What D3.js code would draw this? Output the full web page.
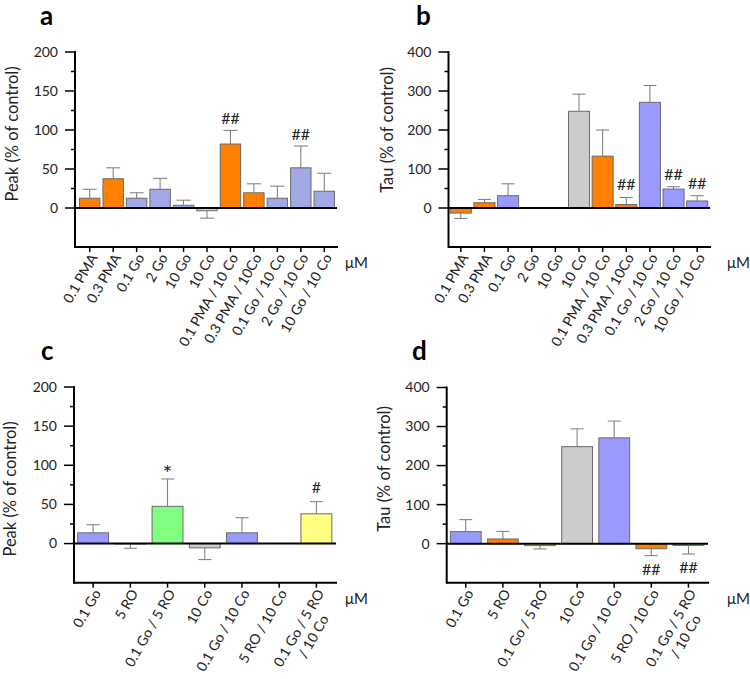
<!DOCTYPE html>
<html>
<head>
<meta charset="utf-8">
<script src="https://cdn.jsdelivr.net/npm/d3@7"></script>
<style>
  html, body { margin: 0; padding: 0; background: #fff; }
  svg { display: block; font-family: Lato, "Open Sans", sans-serif; }
</style>
</head>
<body>
<svg id="chart" width="750" height="679"></svg>
<script>
// ---------- data ----------
const abCategories = ["0.1 PMA", "0.3 PMA", "0.1 Go", "2 Go", "10 Go", "10 Co",
  "0.1 PMA / 10 Co", "0.3 PMA / 10Co", "0.1 Go / 10 Co", "2 Go / 10 Co", "10 Go / 10 Co"];
const abGroups = ["pma", "pma", "go", "go", "go", "co", "pma", "pma", "go", "go", "go"];

const aPeak = [12.5, 37.5, 12.5, 24, 3.5, -3.5, 82, 19.5, 12.5, 51.5, 21.5];
const aPeakErr = [11.5, 14, 7, 14, 6.5, 9.5, 17.5, 11.5, 15.5, 28, 23];
const aMarks = ["", "", "", "", "", "", "##", "", "", "##", ""];

const bTau = [-13, 13.5, 31.5, 0, 0, 248, 133, 9, 271, 48.5, 18];
const bTauErr = [14, 8.5, 30.5, 0, 0, 44, 67, 18, 43, 6, 13.5];
const bMarks = ["", "", "", "", "", "", "", "##", "", "##", "##"];

const cdCategories = ["0.1 Go", "5 RO", "0.1 Go / 5 RO", "10 Co", "0.1 Go / 10 Co",
  "5 RO / 10 Co", "0.1 Go / 5 RO\n/ 10 Co"];
const cGroups = ["go", "ro", "goro", "co", "go", "ro", "goroco"];
const dGroups = ["go", "ro", "goro_d", "co", "go", "ro", "goroco_d"];

const cPeak = [13.7, -0.5, 47.5, -5.5, 13.7, 0, 38];
const cPeakErr = [10.3, 5.5, 35, 15, 19.3, 0, 15.5];
const cMarks = ["", "", "*", "", "", "", "#"];

const dTau = [30.8, 12, -5, 248.5, 271, -13, -4.5];
const dTauErr = [30.7, 19.5, 8.6, 45.5, 43, 17.7, 22];
const dMarks = ["", "", "", "", "", "##", "##"];

const peakTicks = [0, 50, 100, 150, 200];
const peakMinor = [25, 75, 125, 175];
const tauTicks = [0, 100, 200, 300, 400];
const tauMinor = [50, 150, 250, 350];

// ---------- styles ----------
const palette = {
  pma: "#ff8000", ro: "#ff8000", co: "#cccccc",
  goA: "#a2a8e6", go: "#9999ff",
  goro: "#80ff80", goroco: "#ffff80",
  goro_d: "#ffff80", goroco_d: "#80ff80"
};

const svg = d3.select("#chart");

function drawPanel(p) {
  const g = svg.append("g");
  const y = d3.scaleLinear().domain(p.yDomain).range([p.yBottom, p.yTop]);
  const x = d3.scaleBand().domain(p.categories).range([p.xStart, p.xEnd]).paddingInner(p.pad).paddingOuter(p.pad / 2);
  const y0 = y(0);

  // bars
  p.values.forEach((v, i) => {
    const cat = p.categories[i];
    const grp = p.groups[i];
    const fill = (grp === "go" && p.blue) ? p.blue : palette[grp];
    const bx = x(cat), bw = x.bandwidth();
    if (v !== 0) {
      g.append("rect")
        .attr("x", bx).attr("width", bw)
        .attr("y", Math.min(y(v), y0)).attr("height", Math.abs(y(v) - y0))
        .attr("fill", fill).attr("stroke", "#6a6a6a").attr("stroke-width", 1);
    }
    const e = p.errors[i];
    if (e > 0) {
      const cx = bx + bw / 2;
      const end = v >= 0 ? v + e : v - e;
      g.append("line").attr("x1", cx).attr("x2", cx).attr("y1", y(v)).attr("y2", y(end))
        .attr("stroke", "#7a7a7a").attr("stroke-width", 1);
      g.append("line").attr("x1", cx - p.cap / 2).attr("x2", cx + p.cap / 2).attr("y1", y(end)).attr("y2", y(end))
        .attr("stroke", "#7a7a7a").attr("stroke-width", 1);
    }
    const m = p.marks[i];
    if (m) {
      const below = v < 0;
      const end = below ? v - e : v + e;
      const star = m === "*";
      g.append("text")
        .attr("x", bx + bw / 2)
        .attr("y", below ? y(end) + p.markBelow : (star ? y(end) + 2 : y(end) - p.markAbove))
        .attr("text-anchor", "middle")
        .attr("font-size", star ? 22 : 16).attr("fill", "#222")
        .text(m);
    }
  });

  // zero line
  g.append("line").attr("x1", p.axisX).attr("x2", p.xEnd + 1).attr("y1", y0).attr("y2", y0)
    .attr("stroke", "#000").attr("stroke-width", 2);

  // left axis
  g.append("line").attr("x1", p.axisX).attr("x2", p.axisX).attr("y1", y(p.yDomain[1]) - 1).attr("y2", p.yBottom + 1)
    .attr("stroke", "#000").attr("stroke-width", 2);
  p.ticks.forEach(t => {
    g.append("line").attr("x1", p.axisX - 10).attr("x2", p.axisX).attr("y1", y(t)).attr("y2", y(t))
      .attr("stroke", "#000").attr("stroke-width", 1.5);
    g.append("text").attr("x", p.axisX - 17).attr("y", y(t)).attr("dy", "0.35em")
      .attr("text-anchor", "end").attr("font-size", 14).attr("fill", "#222").text(t);
  });
  p.minor.forEach(t => {
    g.append("line").attr("x1", p.axisX - 4).attr("x2", p.axisX).attr("y1", y(t)).attr("y2", y(t))
      .attr("stroke", "#000").attr("stroke-width", 1.5);
  });

  // bottom axis
  g.append("line").attr("x1", p.axisX).attr("x2", p.xEnd + 2).attr("y1", p.yBottom).attr("y2", p.yBottom)
    .attr("stroke", "#000").attr("stroke-width", 2);
  p.categories.forEach(cat => {
    const cx = x(cat) + x.bandwidth() / 2;
    g.append("line").attr("x1", cx).attr("x2", cx).attr("y1", p.yBottom).attr("y2", p.yBottom + 5)
      .attr("stroke", "#000").attr("stroke-width", 1.5);
    const lines = cat.split("\n");
    const t = g.append("text")
      .attr("transform", `translate(${cx + 4},${p.yBottom + 8}) rotate(-60)`)
      .attr("font-size", 14).attr("fill", "#222");
    const first = t.append("tspan").attr("x", 0).attr("dy", "0.35em").attr("text-anchor", "end").text(lines[0]);
    if (lines.length > 1) {
      const w1 = first.node().getComputedTextLength();
      t.append("tspan").attr("x", -w1 / 2).attr("dy", "1.2em").attr("text-anchor", "middle").text(lines[1]);
    }
  });

  // unit
  g.append("text").attr("x", p.unitX).attr("y", p.yBottom + 21).attr("font-size", 15).attr("fill", "#222").text("μM");

  // y title
  g.append("text")
    .attr("transform", `translate(${p.titleX},${p.titleY}) rotate(-90)`)
    .attr("text-anchor", "middle").attr("font-size", 16.5).attr("fill", "#222")
    .text(p.title);

  // panel letter
  g.append("text").attr("x", p.letterX).attr("y", p.letterY)
    .attr("font-size", 26).attr("font-weight", "bold").attr("fill", "#000").text(p.letter);
}

drawPanel({
  letter: "a", letterX: 40, letterY: 25,
  categories: abCategories, groups: abGroups, values: aPeak, errors: aPeakErr, marks: aMarks,
  blue: palette.goA,
  yDomain: [-50, 200], yTop: 52, yBottom: 247, ticks: peakTicks, minor: peakMinor,
  axisX: 75, xStart: 78, xEnd: 336, pad: 0.13, cap: 14,
  markAbove: 6, markBelow: 19,
  title: "Peak (% of control)", titleX: 18, titleY: 134, unitX: 345
});
drawPanel({
  letter: "b", letterX: 416, letterY: 25,
  categories: abCategories, groups: abGroups, values: bTau, errors: bTauErr, marks: bMarks,
  yDomain: [-100, 400], yTop: 52, yBottom: 247, ticks: tauTicks, minor: tauMinor,
  axisX: 448.5, xStart: 449, xEnd: 709, pad: 0.11, cap: 13,
  markAbove: 7, markBelow: 19,
  title: "Tau (% of control)", titleX: 393, titleY: 130, unitX: 727
});
drawPanel({
  letter: "c", letterX: 41, letterY: 360,
  categories: cdCategories, groups: cGroups, values: cPeak, errors: cPeakErr, marks: cMarks,
  yDomain: [-50, 200], yTop: 387, yBottom: 582.7, ticks: peakTicks, minor: peakMinor,
  axisX: 74, xStart: 74.5, xEnd: 335, pad: 0.17, cap: 13,
  markAbove: 9, markBelow: 19,
  title: "Peak (% of control)", titleX: 16, titleY: 489, unitX: 345
});
drawPanel({
  letter: "d", letterX: 412, letterY: 360,
  categories: cdCategories, groups: dGroups, values: dTau, errors: dTauErr, marks: dMarks,
  yDomain: [-100, 400], yTop: 387.5, yBottom: 582.7, ticks: tauTicks, minor: tauMinor,
  axisX: 446.7, xStart: 447.2, xEnd: 707, pad: 0.17, cap: 13,
  markAbove: 7, markBelow: 19,
  title: "Tau (% of control)", titleX: 390, titleY: 469, unitX: 727
});
</script>
</body>
</html>
